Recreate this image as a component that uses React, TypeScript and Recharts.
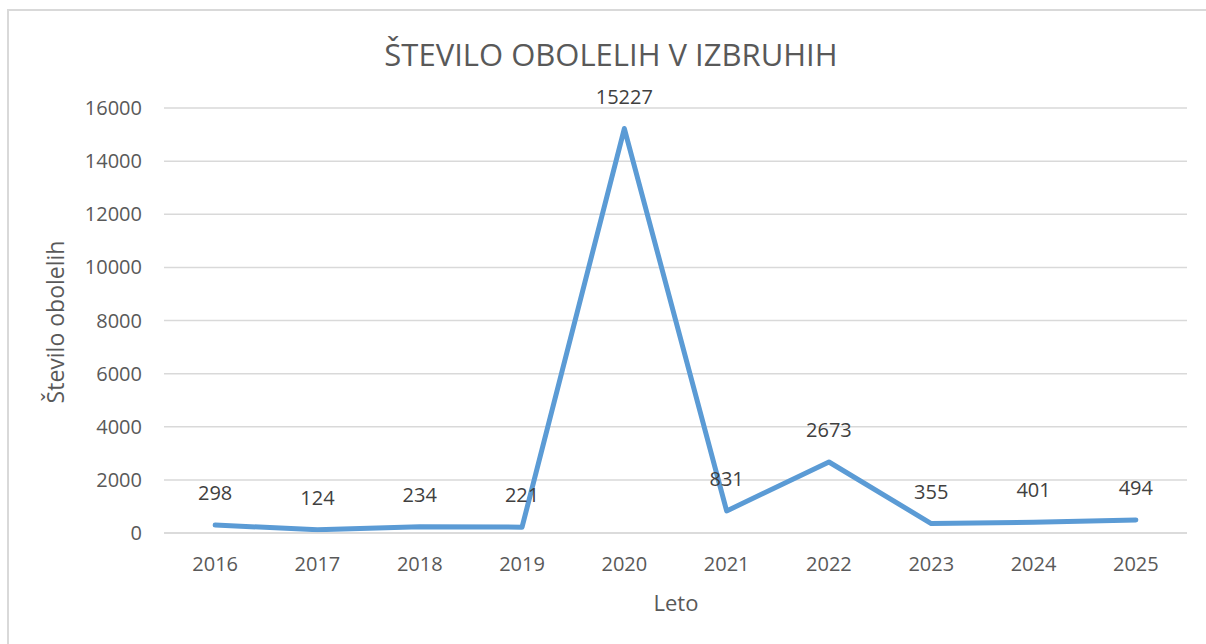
import React from "react";
import { LineChart, Line, XAxis, YAxis, CartesianGrid, LabelList, Customized } from "recharts";

const years = ["2016", "2017", "2018", "2019", "2020", "2021", "2022", "2023", "2024", "2025"];
const cases = [298, 124, 234, 221, 15227, 831, 2673, 355, 401, 494];
const yTicks = [0, 2000, 4000, 6000, 8000, 10000, 12000, 14000, 16000];
const titleText = "ŠTEVILO OBOLELIH V IZBRUHIH";
const yLabelText = "Število obolelih";
const xLabelText = "Leto";

const data = years.map((y, i) => ({ year: y, value: cases[i] }));

const FONT = "'Open Sans', 'Liberation Sans', sans-serif";
const TEXT = "#595959";

export default function App() {
  return (
    <div style={{ position: "absolute", left: 0, top: 0, width: 1206, height: 644, overflow: "hidden", background: "#fff" }}>
      <div style={{ position: "absolute", left: 7, top: 9, width: 1230, height: 700, border: "2px solid #d9d9d9", boxSizing: "border-box" }} />
      <div style={{ position: "absolute", left: 0, top: 0 }}>
        <LineChart width={1206} height={644} data={data} margin={{ top: 108, right: 19, bottom: 81, left: 84 }}>
          <CartesianGrid vertical={false} stroke="#d9d9d9" strokeWidth={1.5} />
          <XAxis
            dataKey="year"
            scale="band"
            height={30}
            axisLine={{ stroke: "#d9d9d9", strokeWidth: 1.5 }}
            tickLine={false}
            tickSize={0}
            tickMargin={24}
            tick={{ fill: TEXT, fontSize: 20, fontFamily: FONT }}
          />
          <YAxis
            domain={[0, 16000]}
            ticks={yTicks}
            width={80}
            axisLine={false}
            tickLine={false}
            tickSize={0}
            tickMargin={22}
            interval={0}
            tick={{ fill: TEXT, fontSize: 20, fontFamily: FONT }}
          />
          <Line
            type="linear"
            dataKey="value"
            stroke="#5B9BD5"
            strokeWidth={5}
            strokeLinecap="round"
            strokeLinejoin="round"
            dot={false}
            activeDot={false}
            isAnimationActive={false}
          >
            <LabelList dataKey="value" position="top" offset={25} fill="#404040" fontSize={20} fontFamily={FONT} />
          </Line>
          <Customized
            component={() => (
              <g>
                <text x={611} y={66} textAnchor="middle" fill={TEXT} fontSize={31} fontFamily={FONT}>
                  {titleText}
                </text>
                <text
                  x={55}
                  y={322}
                  textAnchor="middle"
                  dominantBaseline="central"
                  transform="rotate(-90 55 322)"
                  fill={TEXT}
                  fontSize={23}
                  fontFamily={FONT}
                >
                  {yLabelText}
                </text>
                <text x={676} y={611} textAnchor="middle" fill={TEXT} fontSize={22} fontFamily={FONT}>
                  {xLabelText}
                </text>
              </g>
            )}
          />
        </LineChart>
      </div>
    </div>
  );
}
